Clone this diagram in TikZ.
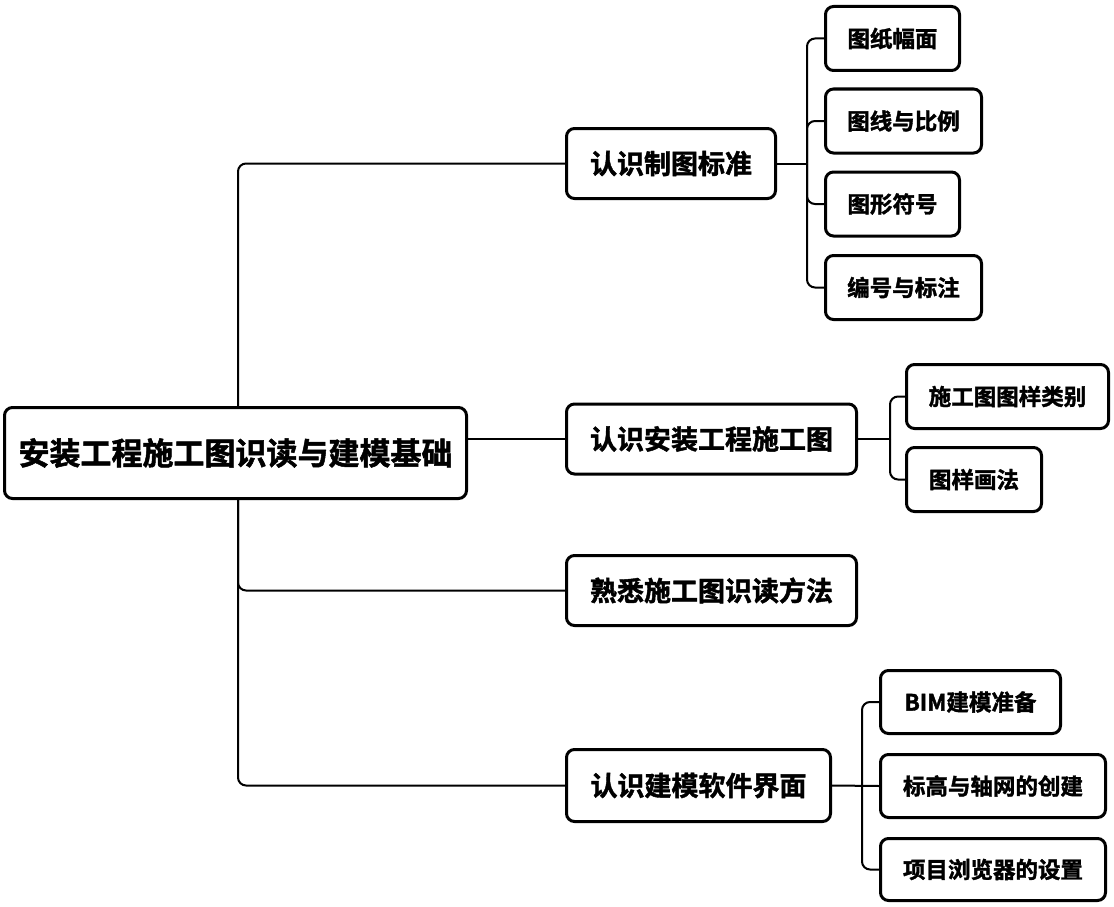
\documentclass[tikz,border=0pt]{standalone}
\usepackage{fontspec}
\setmainfont{Noto Sans CJK SC}[BoldFont={Noto Sans CJK SC Bold}, BoldFeatures={FakeBold=1.6}]
\begin{document}
\begin{tikzpicture}[x=1pt,y=-1pt,
  box/.style={draw, line width=3pt, rounded corners=8pt, fill=white, inner sep=0pt, align=center, font=\bfseries},
  rootbox/.style={box, minimum width=462pt, minimum height=91pt, font=\bfseries\fontsize{31}{36}\selectfont},
  branchbox/.style={box, minimum height=70pt, font=\bfseries\fontsize{27}{32}\selectfont},
  leafbox/.style={box, minimum height=64pt, font=\bfseries\fontsize{22.5}{27}\selectfont},
  link/.style={line width=2pt, rounded corners=8pt}
]
\useasboundingbox (0,0) rectangle (1114,907);
\fill[white] (0,0) rectangle (1114,907);

% root
\node[rootbox] (root) at (235.5,453) {安装工程施工图识读与建模基础};

% branches
\node[branchbox, minimum width=209pt] (b1) at (671,163.5) {认识制图标准};
\node[branchbox, minimum width=290pt] (b2) at (711.5,439) {认识安装工程施工图};
\node[branchbox, minimum width=290pt] (b3) at (711.5,590.5) {熟悉施工图识读方法};
\node[branchbox, minimum width=264pt, minimum height=72pt] (b4) at (698.5,785.5) {认识建模软件界面};

% leaves of b1
\node[leafbox, minimum width=134pt] (l11) at (892.5,38.5) {图纸幅面};
\node[leafbox, minimum width=156pt] (l12) at (903.5,121) {图线与比例};
\node[leafbox, minimum width=134pt] (l13) at (892.5,204) {图形符号};
\node[leafbox, minimum width=156pt] (l14) at (903.5,287.5) {编号与标注};

% leaves of b2
\node[leafbox, minimum width=202pt] (l21) at (1007.5,396.5) {施工图图样类别};
\node[leafbox, minimum width=135pt] (l22) at (974,479.5) {图样画法};

% leaves of b4
\node[leafbox, minimum width=180pt, minimum height=63pt] (l41) at (970.5,702) {BIM建模准备};
\node[leafbox, minimum width=225pt, minimum height=63pt] (l42) at (993,786) {标高与轴网的创建};
\node[leafbox, minimum width=225pt, minimum height=62pt] (l43) at (993,869.5) {项目浏览器的设置};

% junction coordinates
\coordinate (tx) at (238,0);
\coordinate (s1) at (807,163.5);
\coordinate (s2) at (890,439);
\coordinate (s4) at (862,786);

% main trunk
\draw[link] (root.north -| tx) |- (b1.west);
\draw[link] (root.east |- b2.west) -- (b2.west);
\draw[link] (root.south -| tx) |- (b3.west);
\draw[link] (root.south -| tx) |- (b4.west);

% b1 sub-tree
\draw[link] (b1.east) -- (s1);
\draw[link] (s1) |- (l11.west);
\draw[link] (s1) |- (l12.west);
\draw[link] (s1) |- (l13.west);
\draw[link] (s1) |- (l14.west);

% b2 sub-tree
\draw[link] (b2.east) -- (s2);
\draw[link] (s2) |- (l21.west);
\draw[link] (s2) |- (l22.west);

% b4 sub-tree
\draw[link] (b4.east) -- (l42.west);
\draw[link] (s4) |- (l41.west);
\draw[link] (s4) |- (l43.west);
\end{tikzpicture}
\end{document}
